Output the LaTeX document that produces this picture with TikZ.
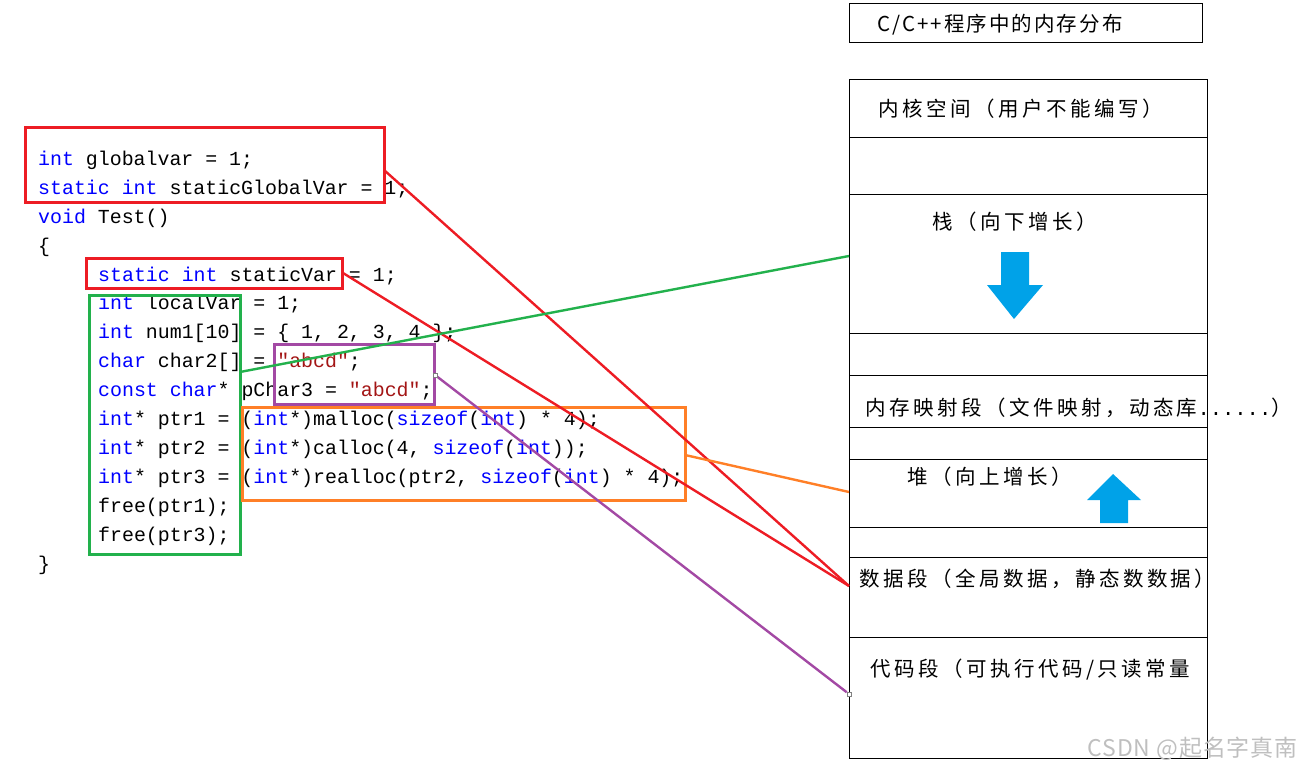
\documentclass[tikz,border=0pt]{standalone}
\usepackage{fontspec}
\usetikzlibrary{fit}
\newfontfamily\codefont{Liberation Mono}
\newfontfamily\cjk[LetterSpace=17]{Noto Sans CJK SC}
\newfontfamily\cjktitle[LetterSpace=10]{Noto Sans CJK SC}
\newfontfamily\wmfont[LetterSpace=4]{Noto Sans CJK SC}
\definecolor{kwc}{HTML}{0000FF}
\definecolor{strc}{HTML}{A31515}
\definecolor{pred}{HTML}{ED1C24}
\definecolor{pgreen}{HTML}{22B14C}
\definecolor{porange}{HTML}{FF7F27}
\definecolor{ppurple}{HTML}{A349A4}
\definecolor{pblue}{HTML}{00A2E8}
\newcommand{\kwd}[1]{\textcolor{kwc}{#1}}
\newcommand{\strv}[1]{\textcolor{strc}{#1}}
\begin{document}
\begin{tikzpicture}[x=1pt,y=-1pt,
  code/.style={anchor=base west, inner sep=0pt, font=\codefont\fontsize{19.9}{24}\selectfont},
  memtext/.style={anchor=west, inner sep=0pt, font=\cjk\fontsize{20.5}{24}\selectfont},
  seg/.style={draw=black, line width=1.2pt, minimum width=358pt, anchor=north west, inner sep=0pt},
  markbox/.style={draw=#1, line width=3pt, inner sep=0pt},
  link/.style={draw=#1, line width=2.4pt},
  handle/.style={draw=gray, fill=white, line width=0.6pt, minimum size=4pt, inner sep=0pt},
  bluearrow/.style={fill=pblue, draw=none}]
\useasboundingbox (0,0) rectangle (1303,773);

% code
\node[code] (l0) at (38,165) {\kwd{int} globalvar = 1;};
\node[code] (l1) at (38,194) {\kwd{static} \kwd{int} staticGlobalVar = 1;};
\node[code] (l2) at (38,223) {\kwd{void} Test()};
\node[code] (l3) at (38,252) {\{};
\node[code] (l4) at (98,281) {\kwd{static} \kwd{int} staticVar = 1;};
\node[code] (l5) at (98,309) {\kwd{int} localVar = 1;};
\node[code] (l6) at (98,338) {\kwd{int} num1[10] = \{ 1, 2, 3, 4 \};};
\node[code] (l7) at (98,367) {\kwd{char} char2[] = \strv{"abcd"};};
\node[code] (l8) at (98,396) {\kwd{const} \kwd{char}* pChar3 = \strv{"abcd"};};
\node[code] (l9) at (98,425) {\kwd{int}* ptr1 = (\kwd{int}*)malloc(\kwd{sizeof}(\kwd{int}) * 4);};
\node[code] (l10) at (98,454) {\kwd{int}* ptr2 = (\kwd{int}*)calloc(4, \kwd{sizeof}(\kwd{int}));};
\node[code] (l11) at (98,483) {\kwd{int}* ptr3 = (\kwd{int}*)realloc(ptr2, \kwd{sizeof}(\kwd{int}) * 4);};
\node[code] (l12) at (98,512) {free(ptr1);};
\node[code] (l13) at (98,541) {free(ptr3);};
\node[code] (l14) at (38,570) {\}};

% highlight boxes
\node[markbox=pred, fit={(25,128) (384,202)}] (gbox) {};
\node[markbox=pred, fit={(86,258) (342,288)}] (sbox) {};
\node[markbox=pgreen, fit={(89,295) (240,554)}] (lbox) {};
\node[markbox=ppurple, fit={(274,344) (434,404)}] (pbox) {};
\node[markbox=porange, fit={(242,407) (685,500)}] (obox) {};

% title
\node[draw=black, line width=1.2pt, minimum width=353pt, minimum height=39pt, anchor=north west, inner sep=0pt] (title) at (849,3) {};
\node[anchor=west, inner sep=0pt, font=\cjktitle\fontsize{20.5}{24}\selectfont] (titletext) at (877,25) {C/C++程序中的内存分布};

% memory column
\node[seg, minimum height=58pt] (kernel) at (849,79) {};
\node[seg, minimum height=57pt] (gapa) at (849,137) {};
\node[seg, minimum height=139pt] (stack) at (849,194) {};
\node[seg, minimum height=42pt] (gapb) at (849,333) {};
\node[seg, minimum height=52pt] (mmap) at (849,375) {};
\node[seg, minimum height=32pt] (gapc) at (849,427) {};
\node[seg, minimum height=68pt] (heap) at (849,459) {};
\node[seg, minimum height=30pt] (gapd) at (849,527) {};
\node[seg, minimum height=80pt] (data) at (849,557) {};
\node[seg, minimum height=121pt] (codeseg) at (849,637) {};

\node[memtext] (kerneltext) at (878,109) {内核空间（用户不能编写）};
\node[memtext] (stacktext) at (932,222) {栈（向下增长）};
\node[memtext] (mmaptext) at (865,408) {内存映射段（文件映射，动态库{\codefont\fontsize{20.5}{24}\selectfont ......}）};
\node[memtext] (heaptext) at (907,477) {堆（向上增长）};
\node[memtext] (datatext) at (859,579) {数据段（全局数据，静态数数据）};
\node[memtext] (codetext) at (870,670) {代码段（可执行代码/只读常量};

% blue arrows
\fill[bluearrow] (1001,252) -- (1029,252) -- (1029,285) -- (1043,285) -- (1014,319) -- (987,285) -- (1001,285) -- cycle;
\fill[bluearrow] (1100,523) -- (1128,523) -- (1128,500) -- (1141,500) -- (1113,474) -- (1087,500) -- (1100,500) -- cycle;

% connectors
\coordinate (g1) at (384,170);
\coordinate (s1) at (343,273);
\coordinate (dataIn) at (849,586);
\coordinate (l1s) at (240,372);
\coordinate (stackIn) at (849,256);
\coordinate (o1) at (685,455);
\coordinate (heapIn) at (849,492);
\node[handle] (p1) at (435,375) {};
\node[handle] (codeIn) at (849,694) {};

\draw[link=pred] (g1) -- (dataIn);
\draw[link=pred] (s1) -- (dataIn);
\draw[link=pgreen] (l1s) -- (stackIn);
\draw[link=porange] (o1) -- (heapIn);
\draw[link=ppurple] (p1) -- (codeIn);
\node[handle] at (p1) {};
\node[handle] at (codeIn) {};

% watermark
\node[anchor=east, inner sep=0pt, text=black!25, font=\wmfont\fontsize{23}{26}\selectfont] (wm) at (1298,749) {CSDN @起名字真南};
\end{tikzpicture}
\end{document}
